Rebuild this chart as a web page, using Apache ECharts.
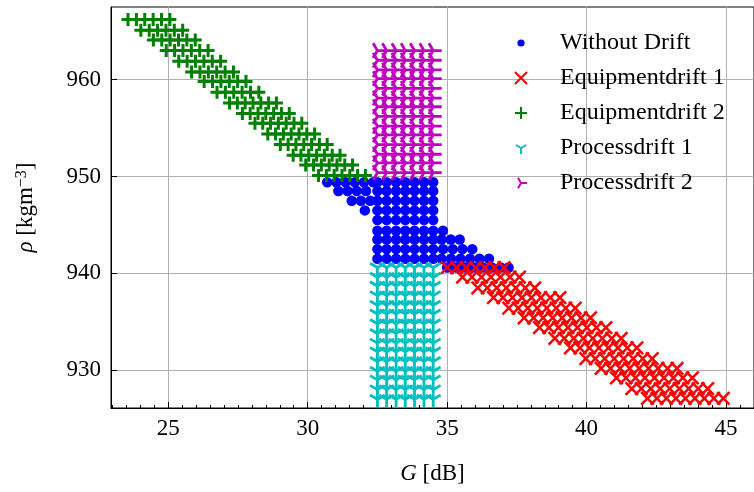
<!DOCTYPE html>
<html><head><meta charset="utf-8">
<script src="https://cdn.jsdelivr.net/npm/echarts@6/dist/echarts.min.js"></script>
<style>html,body{margin:0;padding:0;background:#fff}#c{width:754px;height:492px}</style>
</head><body><div id="c"></div><script>
// ---- data ----
const seriesNames = ['Without Drift', 'Equipmentdrift 1', 'Equipmentdrift 2', 'Processdrift 1', 'Processdrift 2'];
const xMajorTicks = [25, 30, 35, 40, 45];
const xMinorTicks = [23, 23.5, 24, 24.5, 25.5, 26, 26.5, 27, 27.5, 28, 28.5, 29, 29.5, 30.5, 31, 31.5, 32, 32.5, 33, 33.5, 34, 34.5,
  35.5, 36, 36.5, 37, 37.5, 38, 38.5, 39, 39.5, 40.5, 41, 41.5, 42, 42.5, 43, 43.5, 44, 44.5, 45.5];
const yMajorTicks = [930, 940, 950, 960];

// columns (G) of the rectangular blocks
const blockCols = [32.5, 32.83, 33.17, 33.5, 33.83, 34.17, 34.5];
// Without Drift: rectangular core rows (rho)
const noDriftRows = [949.4, 948.5, 947.5, 946.5, 945.5, 944.4, 943.5, 942.5, 941.5];
// Without Drift: diagonal extension points per row [rho, [G...]]
const noDriftExtra = [
  [949.4, [30.70, 31.03, 31.36, 31.69, 32.02, 32.35]],
  [948.5, [31.10, 31.43, 31.76, 32.09]],
  [947.5, [31.58, 31.91, 32.24]],
  [946.5, [32.05]],
  [944.4, [34.85]],
  [943.5, [34.80, 35.13, 35.45]],
  [942.5, [34.85, 35.20, 35.55, 35.90]],
  [941.5, [34.80, 35.14, 35.48, 35.82, 36.16, 36.50]],
  [940.6, [35.00, 35.32, 35.64, 35.96, 36.28, 36.60, 36.92, 37.20]]
];
// Equipmentdrift 1 rows [rho, [G...]]
const equip1Rows = [
  [940.6, [35.00, 35.34, 35.68, 36.02, 36.36, 36.70, 37.04]],
  [939.6, [35.55, 35.89, 36.23, 36.57, 36.91, 37.25, 37.59]],
  [938.5, [36.10, 36.44, 36.78, 37.12, 37.46, 37.80, 38.14]],
  [937.5, [36.66, 37.00, 37.34, 37.68, 38.02, 38.36, 38.70, 39.04]],
  [936.4, [37.21, 37.55, 37.89, 38.23, 38.57, 38.91, 39.25, 39.59]],
  [935.4, [37.76, 38.10, 38.44, 38.78, 39.12, 39.46, 39.80, 40.14]],
  [934.4, [38.31, 38.65, 38.99, 39.33, 39.67, 40.01, 40.35, 40.69]],
  [933.3, [38.86, 39.20, 39.54, 39.88, 40.22, 40.56, 40.90, 41.24]],
  [932.3, [39.42, 39.76, 40.10, 40.44, 40.78, 41.12, 41.46, 41.80]],
  [931.2, [39.97, 40.31, 40.65, 40.99, 41.33, 41.67, 42.01, 42.35]],
  [930.2, [40.52, 40.86, 41.20, 41.54, 41.88, 42.22, 42.56, 42.90, 43.24]],
  [929.2, [41.07, 41.41, 41.75, 42.09, 42.43, 42.77, 43.11, 43.45, 43.79]],
  [928.1, [41.62, 41.96, 42.30, 42.64, 42.98, 43.32, 43.66, 44.00, 44.34]],
  [927.1, [42.18, 42.52, 42.86, 43.20, 43.54, 43.88, 44.22, 44.56, 44.90]]
];
// Equipmentdrift 2 rows [rho, [G...]]
const equip2Rows = [
  [966.2, [23.56, 23.86, 24.16, 24.46, 24.76, 25.06]],
  [965.1, [24.02, 24.32, 24.62, 24.92, 25.22, 25.52]],
  [964.1, [24.47, 24.77, 25.07, 25.37, 25.67, 25.97]],
  [963.0, [24.93, 25.23, 25.53, 25.83, 26.13, 26.43]],
  [961.9, [25.38, 25.68, 25.98, 26.28, 26.58, 26.88]],
  [960.8, [25.84, 26.14, 26.44, 26.74, 27.04, 27.34]],
  [959.8, [26.29, 26.59, 26.89, 27.19, 27.49, 27.79]],
  [958.7, [26.75, 27.05, 27.35, 27.65, 27.95, 28.25]],
  [957.6, [27.20, 27.48, 27.76, 28.04, 28.32, 28.60, 28.88]],
  [956.5, [27.66, 27.94, 28.22, 28.50, 28.78, 29.06, 29.34]],
  [955.5, [28.11, 28.39, 28.67, 28.95, 29.23, 29.51, 29.79]],
  [954.4, [28.57, 28.85, 29.13, 29.41, 29.69, 29.97, 30.25]],
  [953.3, [29.02, 29.30, 29.58, 29.86, 30.14, 30.42, 30.70]],
  [952.2, [29.48, 29.76, 30.04, 30.32, 30.60, 30.88, 31.16]],
  [951.2, [29.93, 30.21, 30.49, 30.77, 31.05, 31.33, 31.61]],
  [950.1, [30.39, 30.67, 30.95, 31.23, 31.51, 31.79, 32.07]]
];
// Processdrift 1 / 2 rows (rho), on blockCols
const process1Rows = [940.6, 939.6, 938.7, 937.7, 936.7, 935.8, 934.8, 933.8, 932.8, 931.9, 930.9, 929.9, 929.0, 928.0, 927.0];
const process2Rows = [950.4, 951.4, 952.3, 953.3, 954.3, 955.2, 956.2, 957.2, 958.1, 959.1, 960.1, 961.0, 962.0, 963.0];

// ---- build point lists from the read values ----
function fromRows(rows) { const p = []; rows.forEach(([r, gs]) => gs.forEach(g => p.push([g, r]))); return p; }
function fromBlock(cols, rows) { const p = []; rows.forEach(r => cols.forEach(g => p.push([g, r]))); return p; }

const noDriftPts = fromBlock(blockCols, noDriftRows).concat(fromRows(noDriftExtra));
const equip1Pts = fromRows(equip1Rows);
const equip2Pts = fromRows(equip2Rows);
const process1Pts = fromBlock(blockCols, process1Rows);
const process2Pts = fromBlock(blockCols, process2Rows);

const FONT = 'Liberation Serif';
const SYM_X = 'path://M0,0L1,1M1,0L0,1';
const SYM_PLUS = 'path://M0.5,0L0.5,1M0,0.5L1,0.5';
const SYM_TRI_DOWN = 'path://M-1,-1M1,1M0,0L0,1M0,0L-0.866,-0.5M0,0L0.866,-0.5';
const SYM_TRI_RIGHT = 'path://M-1,-1M1,1M0,0L1,0M0,0L-0.5,-0.866M0,0L-0.5,0.866';

function strokeSeries(name, data, symbol, size, color, width) {
  return { name, type: 'scatter', data, symbol, symbolSize: size,
    itemStyle: { color: color, borderColor: color, borderWidth: width, opacity: 1 },
    emphasis: { disabled: true }, animation: false };
}

const chart = echarts.init(document.getElementById('c'), null, { renderer: 'canvas' });
chart.setOption({
  animation: false,
  backgroundColor: '#fff',
  grid: { left: 111, top: 7, bottom: 84, right: -11, show: true, borderColor: '#000', borderWidth: 1, backgroundColor: 'transparent' },
  legend: {
    orient: 'vertical', left: 509, top: 26, itemWidth: 12, itemHeight: 12, itemGap: 11,
    textStyle: { fontFamily: FONT, fontSize: 24, color: '#000', lineHeight: 24, padding: [0, 0, 0, 28] },
    data: [
      { name: seriesNames[0], icon: 'path://M-10,-10M10,10M-6,0A6,6,0,1,1,6,0A6,6,0,1,1,-6,0Z' },
      { name: seriesNames[1] }, { name: seriesNames[2] }, { name: seriesNames[3] }, { name: seriesNames[4] }
    ]
  },
  xAxis: [{
    type: 'value', min: 22.95, max: 46, position: 'bottom',
    name: '{i|G} [dB]', nameLocation: 'middle', nameGap: 54,
    nameTextStyle: { fontFamily: FONT, fontSize: 23, color: '#000', rich: { i: { fontFamily: FONT, fontStyle: 'italic', fontSize: 23 } } },
    axisLine: { show: true, onZero: false, lineStyle: { color: '#000', width: 1 } },
    axisTick: { show: true, inside: true, length: 6, customValues: xMajorTicks, lineStyle: { color: '#000', width: 1 } },
    axisLabel: { show: true, customValues: xMajorTicks, margin: 9, fontFamily: FONT, fontSize: 23, color: '#000' },
    splitLine: { show: true, lineStyle: { color: '#b0b0b0', width: 1 } }
  }, {
    type: 'value', min: 22.95, max: 46, position: 'bottom',
    axisLine: { show: false },
    axisTick: { show: true, inside: true, length: 3, customValues: xMinorTicks, lineStyle: { color: '#000', width: 1 } },
    axisLabel: { show: false }, splitLine: { show: false }
  }],
  yAxis: [{
    type: 'value', min: 926.1, max: 967.5,
    name: '{i|ρ} [kgm{s|−3}]', nameLocation: 'middle', nameGap: 74,
    nameTextStyle: { fontFamily: FONT, fontSize: 23, color: '#000',
      rich: { i: { fontFamily: FONT, fontStyle: 'italic', fontSize: 23 }, s: { fontFamily: FONT, fontSize: 16, verticalAlign: 'top', lineHeight: 16 } } },
    axisLine: { show: true, onZero: false, lineStyle: { color: '#000', width: 1 } },
    axisTick: { show: true, inside: true, length: 6, customValues: yMajorTicks, lineStyle: { color: '#000', width: 1 } },
    axisLabel: { show: true, customValues: yMajorTicks, margin: 10, fontFamily: FONT, fontSize: 23, color: '#000' },
    splitLine: { show: true, lineStyle: { color: '#b0b0b0', width: 1 } }
  }],
  series: [
    { name: seriesNames[0], type: 'scatter', data: noDriftPts, symbol: 'circle', symbolSize: 10.5,
      itemStyle: { color: '#0000ff', opacity: 1 }, emphasis: { disabled: true }, animation: false },
    strokeSeries(seriesNames[1], equip1Pts, SYM_X, 12.5, '#ff0000', 2.5),
    strokeSeries(seriesNames[2], equip2Pts, SYM_PLUS, 13, '#008000', 3),
    strokeSeries(seriesNames[3], process1Pts, SYM_TRI_DOWN, 17, '#00bfbf', 2.8),
    strokeSeries(seriesNames[4], process2Pts, SYM_TRI_RIGHT, 17, '#bf00bf', 2.8)
  ]
});
</script></body></html>
